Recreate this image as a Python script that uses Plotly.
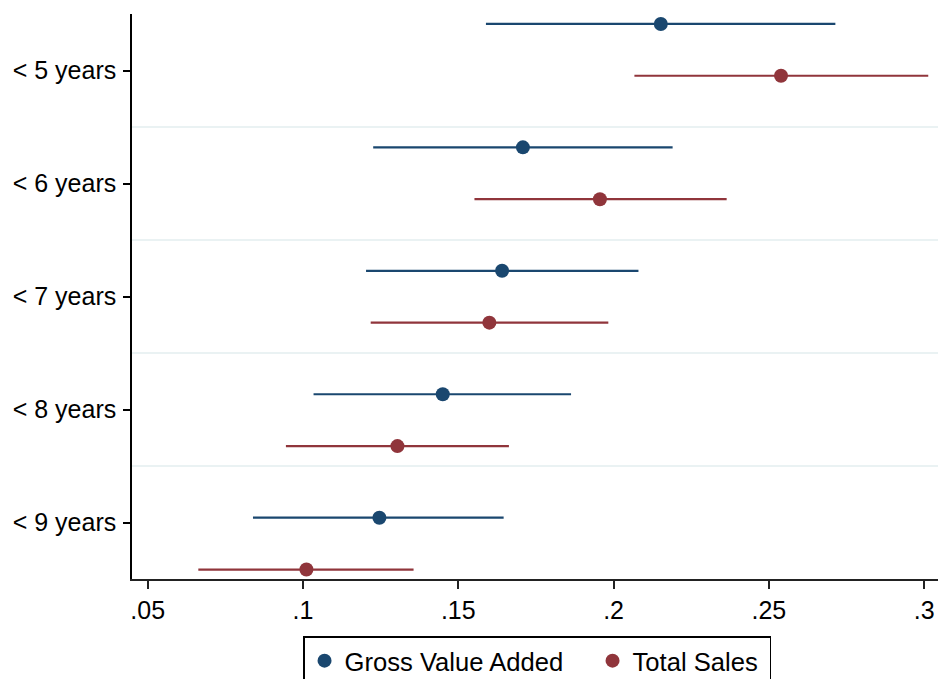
import plotly.graph_objects as go

# ---------------- data ----------------
categories = ["< 5 years", "< 6 years", "< 7 years", "< 8 years", "< 9 years"]

gva_est = [0.2152, 0.1708, 0.1641, 0.1450, 0.1246]
gva_lo = [0.1589, 0.1226, 0.1203, 0.1034, 0.0839]
gva_hi = [0.2714, 0.2190, 0.2080, 0.1863, 0.1646]

ts_est = [0.2539, 0.1956, 0.1600, 0.1304, 0.1011]
ts_lo = [0.2067, 0.1552, 0.1218, 0.0945, 0.0663]
ts_hi = [0.3013, 0.2364, 0.1983, 0.1663, 0.1356]

x_tickvals = [0.05, 0.10, 0.15, 0.20, 0.25, 0.30]
x_ticktext = [".05", ".1", ".15", ".2", ".25", ".3"]

# ---------------- style ----------------
NAVY = "#1a476f"
MAROON = "#90353b"
FONT = "Liberation Sans, Arial, Helvetica, sans-serif"
FS = 25
offset = 0.21
y_top, y_bot = -0.2904, 4.2864
n = len(categories)
band = (y_bot - y_top) / n
tick_pos = [y_top + (k + 0.5) * band for k in range(n)]
sep_pos = [y_top + k * band for k in range(1, n)]

y_gva = [i - offset for i in range(n)]
y_ts = [i + offset for i in range(n)]

fig = go.Figure()
fig.add_trace(go.Scatter(
    x=gva_est, y=y_gva, mode="markers", name="Gross Value Added",
    marker=dict(color=NAVY, size=14),
    legendwidth=243,
    error_x=dict(type="data", symmetric=False,
                 array=[h - e for h, e in zip(gva_hi, gva_est)],
                 arrayminus=[e - l for e, l in zip(gva_est, gva_lo)],
                 color=NAVY, thickness=2.2, width=0),
))
fig.add_trace(go.Scatter(
    x=ts_est, y=y_ts, mode="markers", name="Total Sales",
    marker=dict(color=MAROON, size=14),
    legendwidth=132,
    error_x=dict(type="data", symmetric=False,
                 array=[h - e for h, e in zip(ts_hi, ts_est)],
                 arrayminus=[e - l for e, l in zip(ts_est, ts_lo)],
                 color=MAROON, thickness=2.2, width=0),
))

for s in sep_pos:
    fig.add_shape(type="line", xref="paper", x0=0, x1=1, yref="y", y0=s, y1=s,
                  line=dict(color="#eaf2f3", width=2), layer="below")

fig.update_layout(
    width=938, height=679,
    margin=dict(l=132, r=0, t=14, b=100, autoexpand=False),
    paper_bgcolor="white", plot_bgcolor="white",
    font=dict(family=FONT, size=FS, color="black"),
    showlegend=True,
    legend=dict(orientation="h", x=0.2122, xanchor="left", y=-0.1009, yanchor="top",
                bordercolor="black", borderwidth=1.5, bgcolor="white",
                font=dict(family=FONT, size=25.6, color="black")),
    xaxis=dict(range=[0.04495, 0.30444], tickvals=x_tickvals, ticktext=x_ticktext,
               showgrid=False, zeroline=False, showline=True, linecolor="#222",
               linewidth=1.5, ticks="outside", ticklen=8, tickwidth=1.5, tickcolor="#222",
               tickfont=dict(family=FONT, size=FS, color="black")),
    yaxis=dict(range=[y_bot, y_top], tickvals=tick_pos, ticktext=categories,
               showgrid=False, zeroline=False, showline=True, linecolor="black",
               linewidth=1.5, ticks="outside", ticklen=7, tickwidth=1.5, tickcolor="black",
               ticklabelstandoff=2,
               tickfont=dict(family=FONT, size=FS, color="black")),
)

fig.write_html("out.html")
